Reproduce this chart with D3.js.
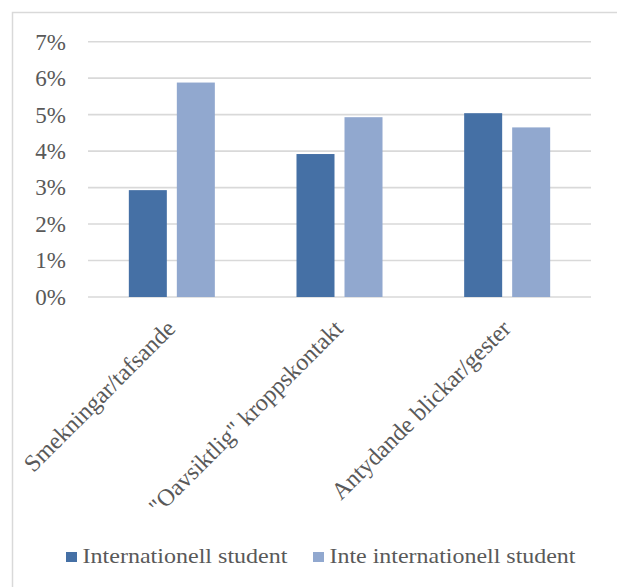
<!DOCTYPE html>
<html>
<head>
<meta charset="utf-8">
<script src="https://cdn.jsdelivr.net/npm/d3@7"></script>
<style>
  html, body { margin: 0; padding: 0; background: #fff; }
  svg { display: block; }
  text { font-family: "Liberation Serif", "Times New Roman", serif; fill: #595959; }
</style>
</head>
<body>
<svg id="chart" width="617" height="587"></svg>
<script>
const categories = ["Smekningar/tafsande", "\"Oavsiktlig\" kroppskontakt", "Antydande blickar/gester"];
const seriesNames = ["Internationell student", "Inte internationell student"];
const internationell = [0.0293, 0.0392, 0.0504];
const inteInternationell = [0.0588, 0.0493, 0.0465];
const yTicks = [0, 0.01, 0.02, 0.03, 0.04, 0.05, 0.06, 0.07];
const colors = ["#4570A5", "#91A8CF"];

const seriesValues = [internationell, inteInternationell];
const svg = d3.select("#chart");

// outer border
svg.append("rect")
  .attr("x", 12.5).attr("y", 12.5)
  .attr("width", 620).attr("height", 590)
  .attr("fill", "none").attr("stroke", "#d9d9d9").attr("stroke-width", 1.5);

const plotLeft = 88, plotRight = 591, plotTop = 41.7, plotBottom = 297;

const y = d3.scaleLinear().domain([0, 0.07]).range([plotBottom, plotTop]);
const x0 = d3.scaleBand().domain(categories).range([plotLeft, plotRight])
  .paddingInner(0.487).paddingOuter(0.2435);
const x1 = d3.scaleBand().domain(seriesNames).range([0, x0.bandwidth()]).paddingInner(0.2083);

// gridlines
svg.append("g").selectAll("line").data(yTicks).join("line")
  .attr("x1", plotLeft).attr("x2", plotRight)
  .attr("y1", d => y(d)).attr("y2", d => y(d))
  .attr("stroke", "#d9d9d9").attr("stroke-width", 1.6);

// y axis labels
const yAxis = d3.axisLeft(y).tickValues(yTicks).tickFormat(d3.format(".0%")).tickSize(0).tickPadding(0);
const yg = svg.append("g").attr("transform", `translate(66,0)`).call(yAxis)
  .attr("font-family", "'Liberation Serif', serif");
yg.select(".domain").remove();
yg.selectAll("text").attr("font-size", 23).attr("fill", "#595959");

// bars
const groups = svg.append("g").selectAll("g").data(categories).join("g")
  .attr("transform", d => `translate(${x0(d)},0)`);
groups.selectAll("rect")
  .data((d, i) => seriesNames.map((s, j) => ({ s, v: seriesValues[j][i] })))
  .join("rect")
  .attr("x", d => x1(d.s))
  .attr("width", x1.bandwidth())
  .attr("y", d => y(d.v))
  .attr("height", d => y(0) - y(d.v))
  .attr("fill", (d, j) => colors[j]);

// category labels
svg.append("g").selectAll("text").data(categories).join("text")
  .attr("transform", d => `translate(${x0(d) + x0.bandwidth() / 2 + 5},330) rotate(-45)`)
  .attr("text-anchor", "end")
  .attr("font-size", 24)
  .text(d => d);

// legend
const legendX = [66, 313];
const legendTextLen = [205, 246];
const leg = svg.append("g").selectAll("g").data(seriesNames).join("g")
  .attr("transform", (d, i) => `translate(${legendX[i]},552)`);
leg.append("rect").attr("width", 11).attr("height", 10).attr("fill", (d, i) => colors[i]);
leg.append("text").attr("x", 16.5).attr("y", 10.5).attr("font-size", 22)
  .attr("textLength", (d, i) => legendTextLen[i]).attr("lengthAdjust", "spacingAndGlyphs")
  .text(d => d);
</script>
</body>
</html>
